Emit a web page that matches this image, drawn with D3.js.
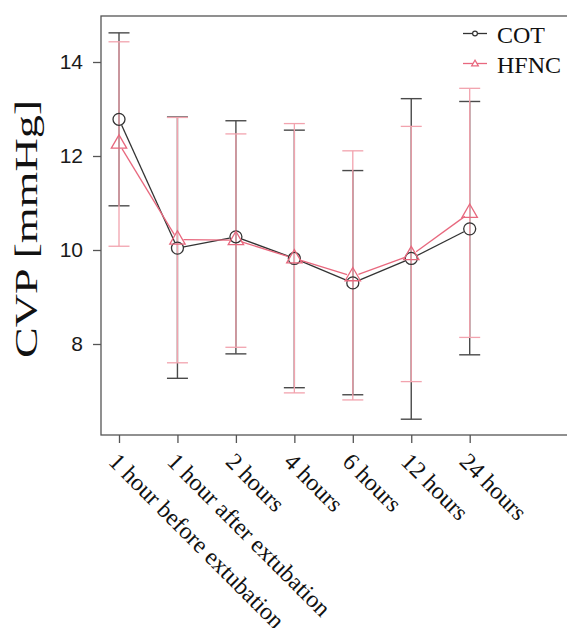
<!DOCTYPE html>
<html>
<head>
<meta charset="utf-8">
<script src="https://cdn.jsdelivr.net/npm/d3@7"></script>
<style>
  body { margin: 0; background: #fff; }
  svg { display: block; }
</style>
</head>
<body>
<div id="chart"></div>
<script>
// Time points
const categories = ['1 hour before extubation', '1 hour after extubation', '2 hours',
  '4 hours', '6 hours', '12 hours', '24 hours'];

// COT series: mean, upper and lower error bar ends
const cotMean  = [12.78, 10.04, 10.28, 9.82, 9.30, 9.82, 10.45];
const cotUpper = [14.62, 12.83, 12.75, 12.55, 11.69, 13.22, 13.16];
const cotLower = [10.94, 7.27, 7.79, 7.07, 6.92, 6.40, 7.77];

// HFNC series
const hfncMean  = [12.26, 10.22, 10.21, 9.82, 9.44, 9.89, 10.79];
const hfncUpper = [14.43, 12.82, 12.47, 12.69, 12.11, 12.63, 13.44];
const hfncLower = [10.08, 7.60, 7.93, 6.96, 6.81, 7.20, 8.14];

const yTicks = [8, 10, 12, 14];

const width = 567, height = 628;
const svg = d3.select('#chart').append('svg')
  .attr('width', width)
  .attr('height', height);

const x = d3.scaleLinear().domain([1, 7]).range([119, 469.7]);
const y = d3.scaleLinear().domain([8, 14]).range([344, 62]);

const plotLeft = 101, plotTop = 16, plotBottom = 435;

const cotColor = '#333333', cotBar = '#4a4a4a';
const hfncColor = '#e8687e', hfncBar = '#f2a3ae';

// plot frame (right edge falls outside the window)
svg.append('rect')
  .attr('x', plotLeft).attr('y', plotTop)
  .attr('width', 520).attr('height', plotBottom - plotTop)
  .attr('fill', 'none')
  .attr('stroke', '#555')
  .attr('stroke-width', 1.3);

// y axis
const yAxis = svg.append('g')
  .attr('transform', `translate(${plotLeft},0)`)
  .call(d3.axisLeft(y).tickValues(yTicks).tickSize(8).tickPadding(10)
    .tickFormat(d3.format('d')));
yAxis.select('.domain').remove();
yAxis.selectAll('line').attr('stroke', '#555').attr('stroke-width', 1.3);
yAxis.selectAll('text')
  .attr('fill', '#1a1a1a')
  .style('font-family', '"Liberation Sans", Arial, sans-serif')
  .style('font-size', '21px');

// x axis with rotated labels
const xAxis = svg.append('g')
  .attr('transform', `translate(0,${plotBottom})`)
  .call(d3.axisBottom(x).tickValues(d3.range(1, 8)).tickSize(8)
    .tickFormat(d => categories[d - 1]));
xAxis.select('.domain').remove();
xAxis.selectAll('line').attr('stroke', '#555').attr('stroke-width', 1.3);
xAxis.selectAll('text')
  .attr('x', 0).attr('y', 0).attr('dy', 0)
  .attr('text-anchor', 'start')
  .attr('transform', 'translate(-12,28) rotate(45)')
  .attr('fill', '#111')
  .style('font-family', '"Liberation Serif", "Times New Roman", serif')
  .style('font-size', '24px');

// y label
svg.append('text')
  .attr('transform', `translate(37,${(100 + 358) / 2}) rotate(-90)`)
  .attr('text-anchor', 'middle')
  .attr('textLength', 258)
  .attr('lengthAdjust', 'spacingAndGlyphs')
  .attr('fill', '#111')
  .style('font-family', '"Liberation Serif", "Times New Roman", serif')
  .style('font-size', '32px')
  .text('CVP [mmHg]');

function errorBars(upper, lower, color, width) {
  const g = svg.append('g');
  upper.forEach((u, i) => {
    const cx = x(i + 1);
    g.append('line')
      .attr('x1', cx).attr('x2', cx)
      .attr('y1', y(u)).attr('y2', y(lower[i]))
      .attr('stroke', color).attr('stroke-width', width);
    [u, lower[i]].forEach(v => {
      g.append('line')
        .attr('x1', cx - 10.5).attr('x2', cx + 10.5)
        .attr('y1', y(v)).attr('y2', y(v))
        .attr('stroke', color).attr('stroke-width', width);
    });
  });
}

// segments between points, with a gap round each symbol
function joinLine(values, color, gap) {
  const g = svg.append('g');
  for (let i = 0; i < values.length - 1; i++) {
    const x1 = x(i + 1), y1 = y(values[i]);
    const x2 = x(i + 2), y2 = y(values[i + 1]);
    const len = Math.hypot(x2 - x1, y2 - y1);
    const ux = (x2 - x1) / len, uy = (y2 - y1) / len;
    g.append('line')
      .attr('x1', x1 + ux * gap).attr('y1', y1 + uy * gap)
      .attr('x2', x2 - ux * gap).attr('y2', y2 - uy * gap)
      .attr('stroke', color).attr('stroke-width', 1.3);
  }
}

// R style pch 2 triangle centred on (cx, cy)
function trianglePath(cx, cy, s) {
  const r = 1.555 * s, xc = 1.347 * s, yc = 0.778 * s;
  return `M${cx},${cy - r}L${cx + xc},${cy + yc}L${cx - xc},${cy + yc}Z`;
}

errorBars(cotUpper, cotLower, cotBar, 1.4);
errorBars(hfncUpper, hfncLower, hfncBar, 1.3);

joinLine(cotMean, cotColor, 6.5);
joinLine(hfncMean, hfncColor, 6);

svg.append('g').selectAll('circle')
  .data(cotMean)
  .enter()
  .append('circle')
  .attr('cx', (d, i) => x(i + 1))
  .attr('cy', d => y(d))
  .attr('r', 6)
  .attr('fill', 'none')
  .attr('stroke', cotColor)
  .attr('stroke-width', 1.3);

svg.append('g').selectAll('path')
  .data(hfncMean)
  .enter()
  .append('path')
  .attr('d', (d, i) => trianglePath(x(i + 1), y(d), 5.7))
  .attr('fill', 'none')
  .attr('stroke', hfncColor)
  .attr('stroke-width', 1.3);

// legend
const legend = svg.append('g');
const legendItems = [
  { label: 'COT', color: cotColor, y: 33.5, shape: 'circle' },
  { label: 'HFNC', color: hfncColor, y: 63.5, shape: 'triangle' }
];
legendItems.forEach(item => {
  legend.append('line')
    .attr('x1', 463).attr('x2', 487)
    .attr('y1', item.y).attr('y2', item.y)
    .attr('stroke', item.color).attr('stroke-width', 1.3);
  if (item.shape === 'circle') {
    legend.append('circle')
      .attr('cx', 475).attr('cy', item.y).attr('r', 2.4)
      .attr('fill', '#fff').attr('stroke', item.color).attr('stroke-width', 1.2);
  } else {
    legend.append('path')
      .attr('d', trianglePath(475, item.y + 0.5, 2.5))
      .attr('fill', '#fff').attr('stroke', item.color).attr('stroke-width', 1.2);
  }
  legend.append('text')
    .attr('x', 497).attr('y', item.y + 9)
    .attr('fill', '#111')
    .style('font-family', '"Liberation Serif", "Times New Roman", serif')
    .style('font-size', '24px')
    .text(item.label);
});
</script>
</body>
</html>
